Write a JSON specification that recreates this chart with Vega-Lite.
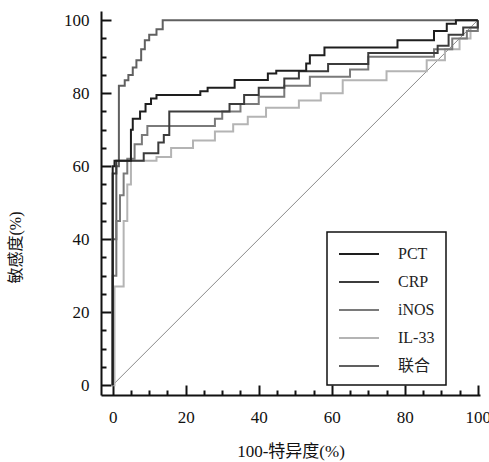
{
  "$schema": "https://vega.github.io/schema/vega-lite/v6.json",
  "autosize": "none",
  "padding": {"left": 101, "top": 11, "right": 9, "bottom": 67},
  "width": 379,
  "height": 384,
  "background": "white",
  "config": {
    "view": {"stroke": null},
    "font": "Liberation Serif, Noto Sans CJK SC, serif",
    "legend": {"strokeWidth": 1.5}
  },
  "encoding": {
    "x": {
      "field": "x",
      "type": "quantitative",
      "scale": {"domain": [-3.2, 100.6], "nice": false, "zero": false},
      "axis": {
        "title": "100-特异度(%)",
        "values": [0, 5, 10, 15, 20, 25, 30, 35, 40, 45, 50, 55, 60, 65, 70, 75, 80, 85, 90, 95, 100],
        "labelExpr": "datum.value % 20 === 0 ? datum.label : ''",
        "tickSize": {"condition": {"test": "datum.value % 20 === 0", "value": -10}, "value": -5},
        "tickWidth": 2,
        "tickColor": "#111",
        "domainColor": "#111",
        "domainWidth": 2,
        "grid": false,
        "labelFont": "Liberation Serif, serif",
        "labelFontSize": 17,
        "labelColor": "#111",
        "labelPadding": 24,
        "labelFlush": false,
        "labelOverlap": false,
        "titleFont": "Liberation Serif, Noto Sans CJK SC, serif",
        "titleFontSize": 17,
        "titleFontWeight": "normal",
        "titleColor": "#111",
        "titlePadding": 13
      }
    },
    "y": {
      "field": "y",
      "type": "quantitative",
      "scale": {"domain": [-2.7, 102.5], "nice": false, "zero": false},
      "axis": {
        "title": "敏感度(%)",
        "values": [0, 5, 10, 15, 20, 25, 30, 35, 40, 45, 50, 55, 60, 65, 70, 75, 80, 85, 90, 95, 100],
        "labelExpr": "datum.value % 20 === 0 ? datum.label : ''",
        "tickSize": {"condition": {"test": "datum.value % 20 === 0", "value": -10}, "value": -5},
        "tickWidth": 2,
        "tickColor": "#111",
        "domainColor": "#111",
        "domainWidth": 2,
        "grid": false,
        "labelFont": "Liberation Serif, serif",
        "labelFontSize": 17,
        "labelColor": "#111",
        "labelPadding": 22,
        "labelFlush": false,
        "labelOverlap": false,
        "titleFont": "Liberation Serif, Noto Sans CJK SC, serif",
        "titleFontSize": 16,
        "titleFontWeight": "normal",
        "titleColor": "#111",
        "titleX": -86,
        "titleY": 236,
        "titleAlign": "center",
        "titleBaseline": "middle",
        "titleAngle": -90
      }
    }
  },
  "layer": [
    {
      "data": {"values": [{"x": 0, "y": 0}, {"x": 100, "y": 100}]},
      "mark": {"type": "line", "color": "#8a8a8a", "strokeWidth": 1}
    },
    {
      "data": {"values": [
        {"g": "联合", "i": 0, "x": 0, "y": 0},
        {"g": "联合", "i": 1, "x": 0, "y": 40},
        {"g": "联合", "i": 2, "x": 1, "y": 60},
        {"g": "联合", "i": 3, "x": 1.7, "y": 82},
        {"g": "联合", "i": 4, "x": 3.3, "y": 83.5},
        {"g": "联合", "i": 5, "x": 4.3, "y": 85},
        {"g": "联合", "i": 6, "x": 5.5, "y": 87},
        {"g": "联合", "i": 7, "x": 6.5, "y": 89},
        {"g": "联合", "i": 8, "x": 7.8, "y": 92},
        {"g": "联合", "i": 9, "x": 8.8, "y": 94.5},
        {"g": "联合", "i": 10, "x": 10, "y": 96},
        {"g": "联合", "i": 11, "x": 12, "y": 97.5},
        {"g": "联合", "i": 12, "x": 13.7, "y": 100},
        {"g": "联合", "i": 13, "x": 100, "y": 100},

        {"g": "IL-33", "i": 0, "x": 0, "y": 0},
        {"g": "IL-33", "i": 1, "x": 0.5, "y": 27},
        {"g": "IL-33", "i": 2, "x": 3, "y": 45},
        {"g": "IL-33", "i": 3, "x": 4, "y": 55},
        {"g": "IL-33", "i": 4, "x": 5, "y": 61.5},
        {"g": "IL-33", "i": 5, "x": 12, "y": 62.5},
        {"g": "IL-33", "i": 6, "x": 16, "y": 65},
        {"g": "IL-33", "i": 7, "x": 22, "y": 67},
        {"g": "IL-33", "i": 8, "x": 28, "y": 69.5},
        {"g": "IL-33", "i": 9, "x": 33, "y": 71.5},
        {"g": "IL-33", "i": 10, "x": 37, "y": 73.5},
        {"g": "IL-33", "i": 11, "x": 42, "y": 76},
        {"g": "IL-33", "i": 12, "x": 51, "y": 78},
        {"g": "IL-33", "i": 13, "x": 57, "y": 80},
        {"g": "IL-33", "i": 14, "x": 63, "y": 83.5},
        {"g": "IL-33", "i": 15, "x": 75, "y": 86},
        {"g": "IL-33", "i": 16, "x": 86, "y": 89},
        {"g": "IL-33", "i": 17, "x": 91, "y": 92},
        {"g": "IL-33", "i": 18, "x": 95, "y": 95},
        {"g": "IL-33", "i": 19, "x": 98, "y": 98},
        {"g": "IL-33", "i": 20, "x": 100, "y": 100},

        {"g": "iNOS", "i": 0, "x": 0, "y": 0},
        {"g": "iNOS", "i": 1, "x": 0, "y": 30},
        {"g": "iNOS", "i": 2, "x": 1, "y": 45},
        {"g": "iNOS", "i": 3, "x": 2, "y": 52},
        {"g": "iNOS", "i": 4, "x": 3, "y": 58},
        {"g": "iNOS", "i": 5, "x": 4, "y": 62},
        {"g": "iNOS", "i": 6, "x": 6, "y": 66},
        {"g": "iNOS", "i": 7, "x": 8, "y": 68.5},
        {"g": "iNOS", "i": 8, "x": 9.5, "y": 71},
        {"g": "iNOS", "i": 9, "x": 28, "y": 73},
        {"g": "iNOS", "i": 10, "x": 30, "y": 75},
        {"g": "iNOS", "i": 11, "x": 35, "y": 77},
        {"g": "iNOS", "i": 12, "x": 40, "y": 79},
        {"g": "iNOS", "i": 13, "x": 47, "y": 82},
        {"g": "iNOS", "i": 14, "x": 54, "y": 84.5},
        {"g": "iNOS", "i": 15, "x": 65, "y": 86.5},
        {"g": "iNOS", "i": 16, "x": 70, "y": 90},
        {"g": "iNOS", "i": 17, "x": 88, "y": 92},
        {"g": "iNOS", "i": 18, "x": 93, "y": 95},
        {"g": "iNOS", "i": 19, "x": 97, "y": 97},
        {"g": "iNOS", "i": 20, "x": 100, "y": 100},

        {"g": "CRP", "i": 0, "x": 0, "y": 0},
        {"g": "CRP", "i": 1, "x": 0, "y": 58},
        {"g": "CRP", "i": 2, "x": 1, "y": 61.5},
        {"g": "CRP", "i": 3, "x": 8.5, "y": 63.5},
        {"g": "CRP", "i": 4, "x": 12.5, "y": 66.5},
        {"g": "CRP", "i": 5, "x": 14, "y": 68.5},
        {"g": "CRP", "i": 6, "x": 15.5, "y": 75},
        {"g": "CRP", "i": 7, "x": 32, "y": 77},
        {"g": "CRP", "i": 8, "x": 36, "y": 79.5},
        {"g": "CRP", "i": 9, "x": 40, "y": 81.5},
        {"g": "CRP", "i": 10, "x": 47, "y": 84},
        {"g": "CRP", "i": 11, "x": 51, "y": 86},
        {"g": "CRP", "i": 12, "x": 59, "y": 88},
        {"g": "CRP", "i": 13, "x": 70, "y": 91},
        {"g": "CRP", "i": 14, "x": 89, "y": 93},
        {"g": "CRP", "i": 15, "x": 92, "y": 96},
        {"g": "CRP", "i": 16, "x": 96, "y": 98},
        {"g": "CRP", "i": 17, "x": 100, "y": 100},

        {"g": "PCT", "i": 0, "x": 0, "y": 0},
        {"g": "PCT", "i": 1, "x": 0, "y": 60},
        {"g": "PCT", "i": 2, "x": 0.5, "y": 61.5},
        {"g": "PCT", "i": 3, "x": 5, "y": 70},
        {"g": "PCT", "i": 4, "x": 5.5, "y": 73},
        {"g": "PCT", "i": 5, "x": 7.5, "y": 75},
        {"g": "PCT", "i": 6, "x": 9, "y": 77},
        {"g": "PCT", "i": 7, "x": 10.5, "y": 78.5},
        {"g": "PCT", "i": 8, "x": 12, "y": 79.5},
        {"g": "PCT", "i": 9, "x": 24, "y": 80.5},
        {"g": "PCT", "i": 10, "x": 26, "y": 81.5},
        {"g": "PCT", "i": 11, "x": 33.4, "y": 83.6},
        {"g": "PCT", "i": 12, "x": 42.5, "y": 85.4},
        {"g": "PCT", "i": 13, "x": 44.8, "y": 86.1},
        {"g": "PCT", "i": 14, "x": 53, "y": 88.1},
        {"g": "PCT", "i": 15, "x": 54, "y": 90.4},
        {"g": "PCT", "i": 16, "x": 58, "y": 92.5},
        {"g": "PCT", "i": 17, "x": 78, "y": 94.5},
        {"g": "PCT", "i": 18, "x": 88, "y": 97},
        {"g": "PCT", "i": 19, "x": 91.5, "y": 99},
        {"g": "PCT", "i": 20, "x": 94, "y": 100},
        {"g": "PCT", "i": 21, "x": 100, "y": 100}
      ]},
      "mark": {"type": "line", "interpolate": "step-after", "strokeWidth": 2},
      "encoding": {
        "order": {"field": "i", "type": "quantitative"},
        "color": {
          "field": "g",
          "type": "nominal",
          "scale": {
            "domain": ["PCT", "CRP", "iNOS", "IL-33", "联合"],
            "range": ["#1e1e1e", "#3c3c3c", "#7a7a7a", "#b4b4b4", "#606060"]
          },
          "legend": {
            "title": null,
            "orient": "none",
            "legendX": 226,
            "legendY": 221,
            "padding": 11,
            "strokeColor": "#111",
            "fillColor": "white",
            "symbolType": "M-1,0H3",
            "symbolSize": 400,
            "symbolStrokeWidth": 2,
            "labelOffset": 38,
            "labelFontSize": 16,
            "labelColor": "#222",
            "labelFont": "Liberation Serif, Noto Sans CJK SC, serif",
            "rowPadding": 9,
            "labelExpr": "datum.label + '\u00a0\u00a0\u00a0\u00a0\u00a0\u00a0\u00a0\u00a0'"
          }
        }
      }
    }
  ]
}
